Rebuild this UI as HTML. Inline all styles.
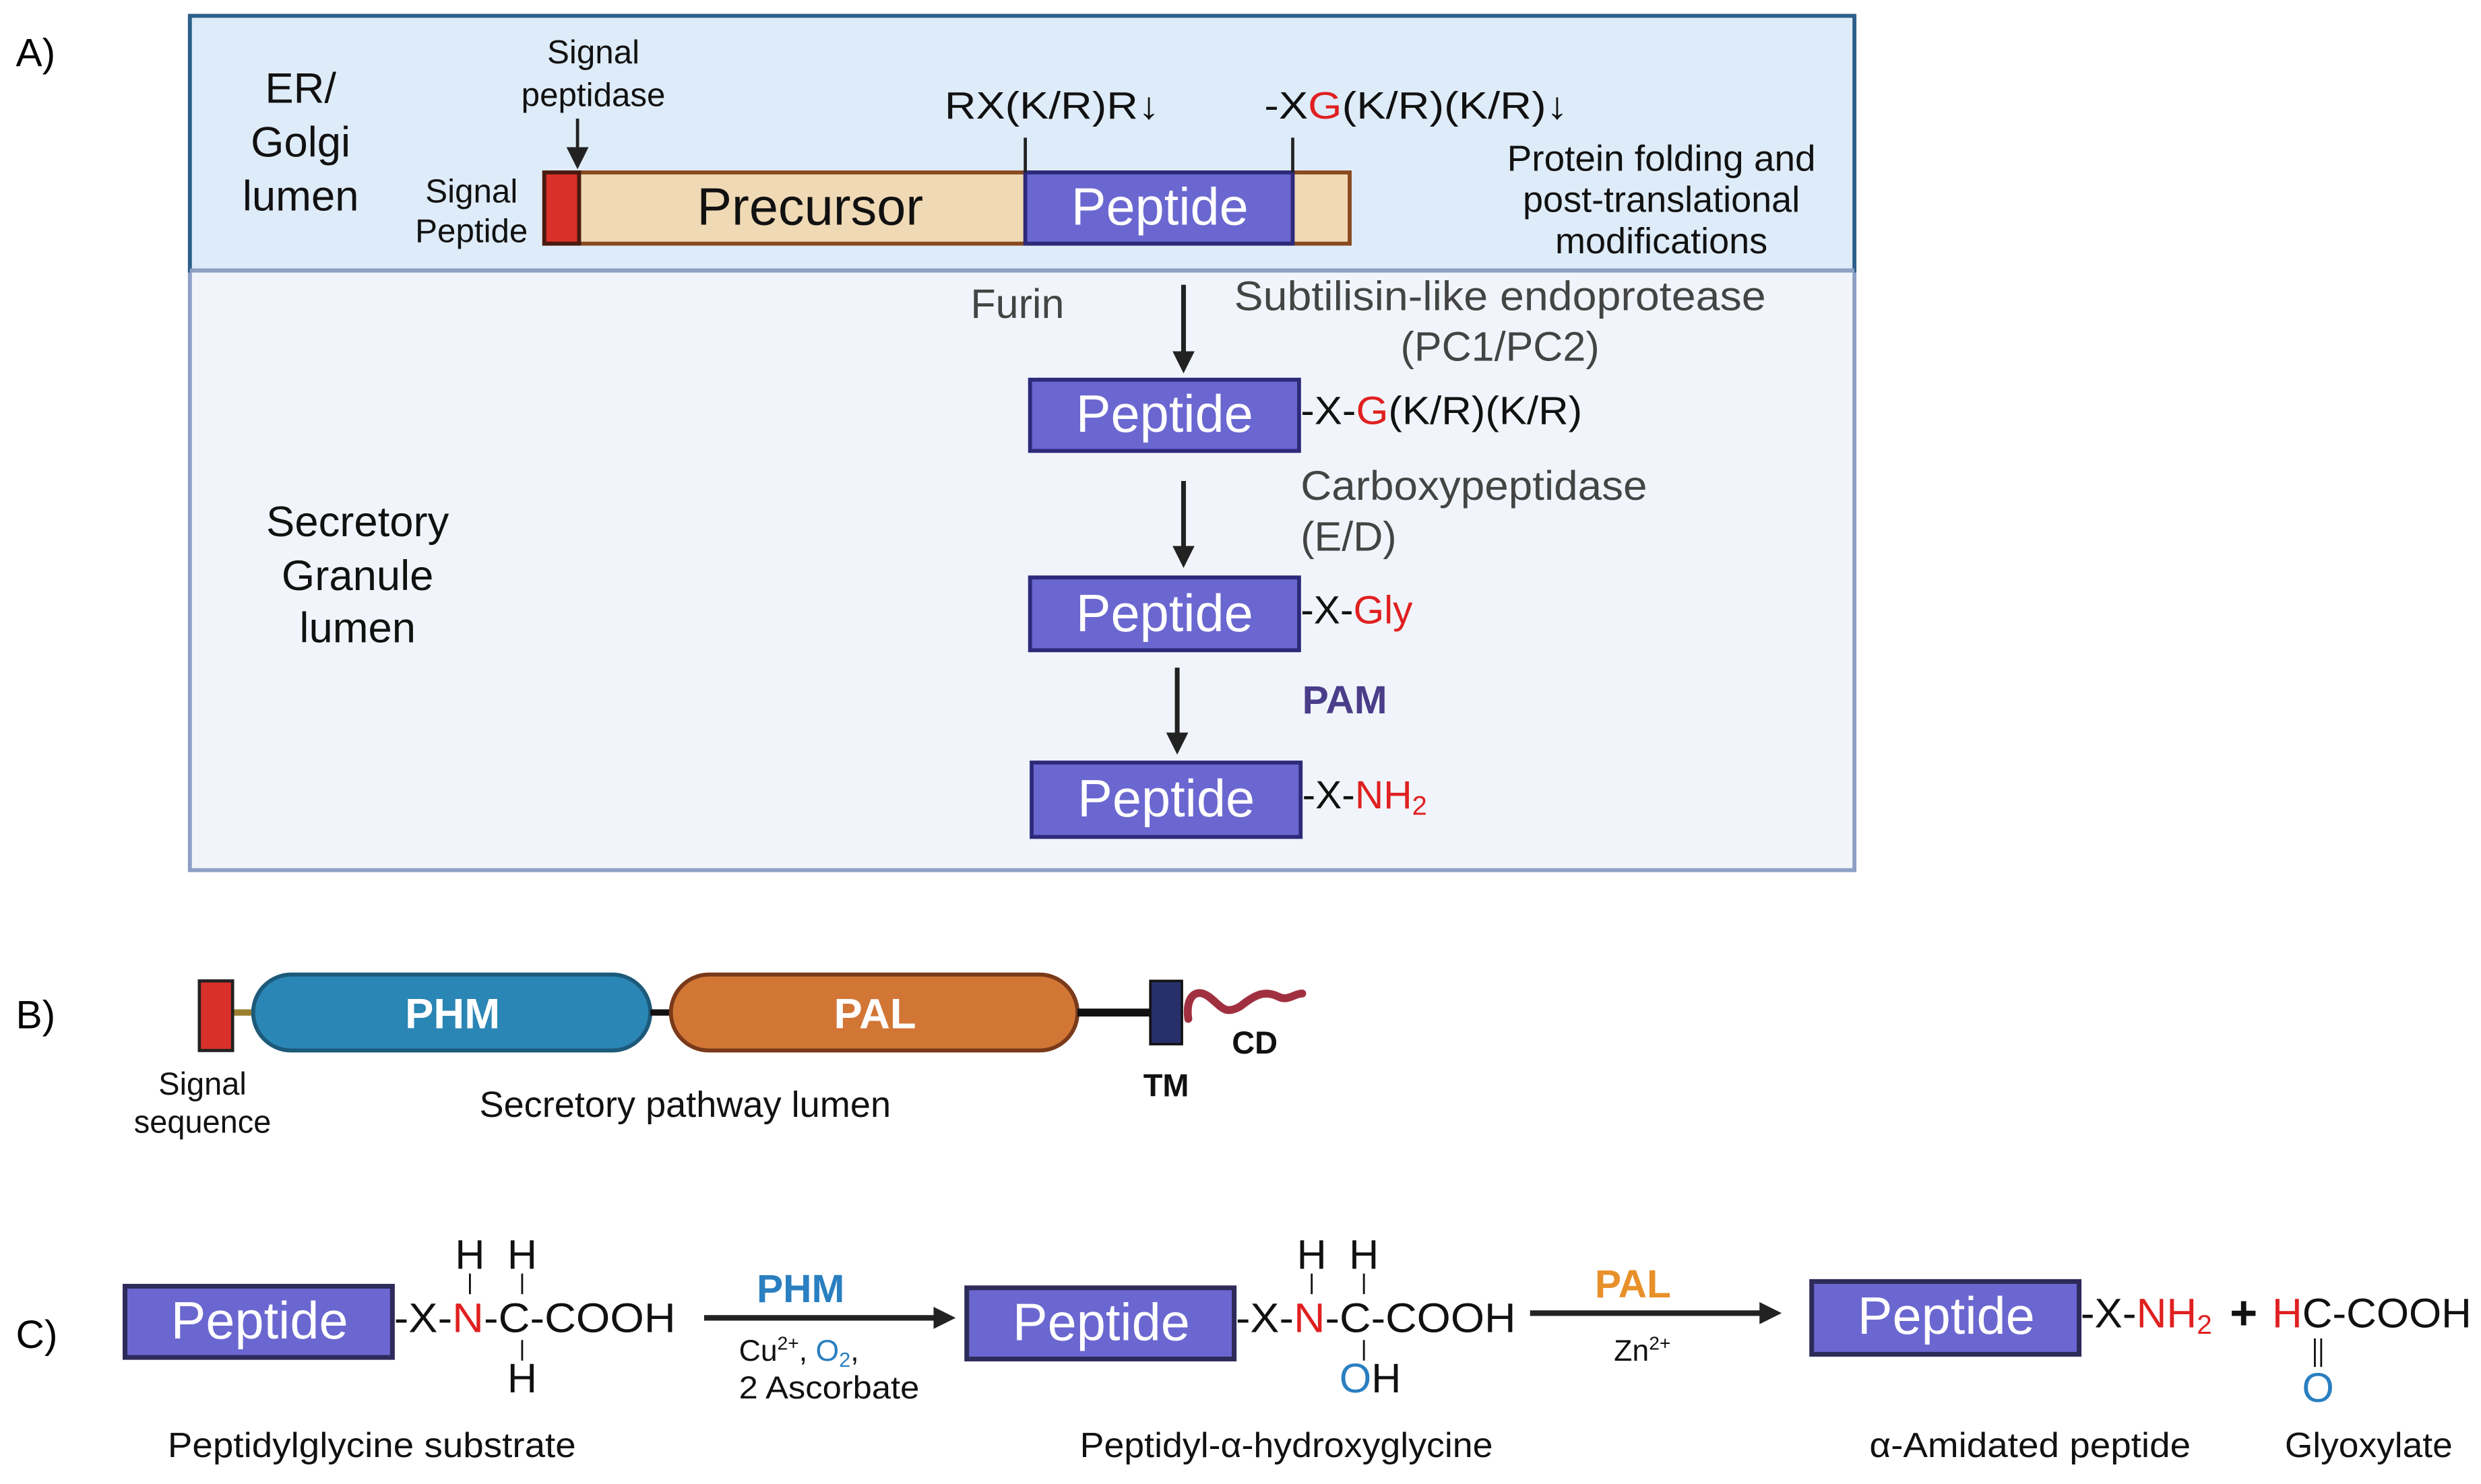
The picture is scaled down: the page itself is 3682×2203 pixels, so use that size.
<!DOCTYPE html>
<html><head><meta charset="utf-8"><style>
html,body{margin:0;padding:0;background:#fff}
svg{display:block}
text{font-family:"Liberation Sans",sans-serif}
</style></head><body>
<svg width="3682" height="2203" viewBox="0 0 1568 938" preserveAspectRatio="none" xmlns="http://www.w3.org/2000/svg">
<defs>
<marker id="ah2" markerWidth="14" markerHeight="14" refX="10" refY="7" orient="auto" markerUnits="userSpaceOnUse"><path d="M0,0 L14,7 L0,14 Z" fill="#222"/></marker>
</defs>
<!-- Panel A -->
<text x="10" y="42" font-size="25">A)</text>
<rect x="120" y="171" width="1052" height="379" fill="#f1f5fb" stroke="#8da0c4" stroke-width="2.5"/>
<rect x="120" y="10" width="1052" height="161" fill="#deebf8" stroke="#2d5f8a" stroke-width="2.5"/>
<line x1="120" y1="171" x2="1172" y2="171" stroke="#8da0c4" stroke-width="2.5"/>
<g font-size="27" text-anchor="middle" fill="#111">
<text x="190" y="65">ER/</text><text x="190" y="99">Golgi</text><text x="190" y="133">lumen</text>
<text x="226" y="339">Secretory</text><text x="226" y="373">Granule</text><text x="226" y="406">lumen</text>
</g>
<g font-size="21" text-anchor="middle" fill="#111">
<text x="375" y="40">Signal</text><text x="375" y="67">peptidase</text>
<text x="298" y="128">Signal</text><text x="298" y="153">Peptide</text>
</g>
<line x1="365" y1="75" x2="365" y2="103" stroke="#222" stroke-width="2" marker-end="url(#ah2)"/>
<rect x="344" y="109" width="509" height="45" fill="#f0d9b5" stroke="#8a4a20" stroke-width="2.5"/>
<rect x="344" y="109" width="22" height="45" fill="#d9302a" stroke="#4a1a10" stroke-width="2.5"/>
<rect x="648" y="109" width="169" height="45" fill="#6b67d0" stroke="#2e2a7a" stroke-width="2.5"/>
<text x="512" y="142" font-size="33" text-anchor="middle" fill="#111" textLength="143" lengthAdjust="spacingAndGlyphs">Precursor</text>
<text x="733" y="142" font-size="33" text-anchor="middle" fill="#fff" textLength="112" lengthAdjust="spacingAndGlyphs">Peptide</text>
<line x1="648" y1="87" x2="648" y2="109" stroke="#222" stroke-width="2"/>
<line x1="817" y1="87" x2="817" y2="109" stroke="#222" stroke-width="2"/>
<text x="597" y="75" font-size="24" fill="#111" textLength="136" lengthAdjust="spacingAndGlyphs">RX(K/R)R↓</text>
<text x="799" y="75" font-size="24" fill="#111" textLength="192" lengthAdjust="spacingAndGlyphs">-X<tspan fill="#e02020">G</tspan>(K/R)(K/R)↓</text>
<g font-size="23" text-anchor="middle" fill="#111">
<text x="1050" y="108" textLength="195" lengthAdjust="spacingAndGlyphs">Protein folding and</text><text x="1050" y="134">post-translational</text><text x="1050" y="160">modifications</text>
</g>
<text x="643" y="201" font-size="26" text-anchor="middle" fill="#444">Furin</text>
<text x="780" y="196" font-size="26" fill="#444" textLength="336" lengthAdjust="spacingAndGlyphs">Subtilisin-like endoprotease</text>
<text x="948" y="228" font-size="26" text-anchor="middle" fill="#444">(PC1/PC2)</text>
<line x1="748" y1="180" x2="748" y2="232" stroke="#222" stroke-width="3" marker-end="url(#ah2)"/>
<g stroke="#2e2a7a" stroke-width="2.5" fill="#6b67d0">
<rect x="651" y="240" width="170" height="45"/>
<rect x="651" y="365" width="170" height="46"/>
<rect x="652" y="482" width="170" height="47"/>
</g>
<g font-size="33" text-anchor="middle" fill="#fff">
<text x="736" y="273" textLength="112" lengthAdjust="spacingAndGlyphs">Peptide</text><text x="736" y="399" textLength="112" lengthAdjust="spacingAndGlyphs">Peptide</text><text x="737" y="516" textLength="112" lengthAdjust="spacingAndGlyphs">Peptide</text>
</g>
<g font-size="25" fill="#111">
<text x="822" y="268" textLength="178" lengthAdjust="spacingAndGlyphs">-X-<tspan fill="#e02020">G</tspan>(K/R)(K/R)</text>
<text x="822" y="394">-X-<tspan fill="#e02020">Gly</tspan></text>
<text x="823" y="511">-X-<tspan fill="#e02020">NH<tspan font-size="17" dy="4">2</tspan></tspan></text>
</g>
<line x1="748" y1="304" x2="748" y2="355" stroke="#222" stroke-width="3" marker-end="url(#ah2)"/>
<text x="822" y="316" font-size="26" fill="#444" textLength="219" lengthAdjust="spacingAndGlyphs">Carboxypeptidase</text>
<text x="822" y="348" font-size="26" fill="#444">(E/D)</text>
<line x1="744" y1="422" x2="744" y2="473" stroke="#222" stroke-width="3" marker-end="url(#ah2)"/>
<text x="823" y="451" font-size="25" font-weight="bold" fill="#4a3d8a">PAM</text>
<!-- Panel B -->
<text x="10" y="650" font-size="25">B)</text>
<line x1="147" y1="640" x2="160" y2="640" stroke="#9a8030" stroke-width="4"/>
<rect x="126" y="620" width="21" height="44" fill="#d9302a" stroke="#222" stroke-width="2"/>
<rect x="160" y="616" width="251" height="48" rx="24" fill="#2a86b5" stroke="#1d5a7a" stroke-width="2.5"/>
<line x1="411" y1="640" x2="424" y2="640" stroke="#111" stroke-width="4"/>
<rect x="424" y="616" width="257" height="48" rx="24" fill="#d27636" stroke="#7a3a1a" stroke-width="2.5"/>
<line x1="681" y1="640" x2="727" y2="640" stroke="#111" stroke-width="5"/>
<rect x="727" y="620" width="20" height="40" fill="#27306a" stroke="#111" stroke-width="1.5"/>
<path d="M751,644 C749,630 756,624 764,630 C772,636 774,642 784,636 C794,628 800,626 808,630 C814,633 818,628 823,628" fill="none" stroke="#a03040" stroke-width="5" stroke-linecap="round"/>
<text x="286" y="650" font-size="27" font-weight="bold" text-anchor="middle" fill="#fff">PHM</text>
<text x="553" y="650" font-size="27" font-weight="bold" text-anchor="middle" fill="#fff">PAL</text>
<text x="793" y="666" font-size="20" font-weight="bold" text-anchor="middle" fill="#111">CD</text>
<text x="737" y="693" font-size="20" font-weight="bold" text-anchor="middle" fill="#111">TM</text>
<text x="128" y="692" font-size="20" text-anchor="middle" fill="#111">Signal</text>
<text x="128" y="716" font-size="20" text-anchor="middle" fill="#111">sequence</text>
<text x="433" y="706" font-size="23" text-anchor="middle" fill="#111" textLength="260" lengthAdjust="spacingAndGlyphs">Secretory pathway lumen</text>
<!-- Panel C -->
<text x="10" y="852" font-size="25">C)</text>
<g stroke="#2e2a5a" stroke-width="3" fill="#6b67d0">
<rect x="79" y="813" width="169" height="45"/>
<rect x="611" y="814" width="169" height="45"/>
<rect x="1145" y="810" width="169" height="46"/>
</g>
<g font-size="33" text-anchor="middle" fill="#fff">
<text x="164" y="846" textLength="112" lengthAdjust="spacingAndGlyphs">Peptide</text><text x="696" y="847" textLength="112" lengthAdjust="spacingAndGlyphs">Peptide</text><text x="1230" y="843" textLength="112" lengthAdjust="spacingAndGlyphs">Peptide</text>
</g>
<g font-size="26" fill="#111">
<text x="249" y="842" textLength="178" lengthAdjust="spacingAndGlyphs">-X-<tspan fill="#e02020">N</tspan>-C-COOH</text>
<text x="781" y="842" textLength="177" lengthAdjust="spacingAndGlyphs">-X-<tspan fill="#e02020">N</tspan>-C-COOH</text>
<text x="1315" y="839" textLength="83" lengthAdjust="spacingAndGlyphs">-X-<tspan fill="#e02020">NH<tspan font-size="17" dy="4">2</tspan></tspan></text>
<text x="1436" y="839" textLength="126" lengthAdjust="spacingAndGlyphs"><tspan fill="#e02020">H</tspan>C-COOH</text>
<g text-anchor="middle">
<text x="297" y="802">H</text><text x="330" y="802">H</text><text x="330" y="880">H</text>
<text x="829" y="802">H</text><text x="862" y="802">H</text>
<text x="866" y="880"><tspan fill="#2a7fc0">O</tspan>H</text>
<text x="1465" y="886" fill="#2a7fc0">O</text>
</g>
</g>
<text x="1418" y="840" font-size="30" font-weight="bold" text-anchor="middle" fill="#111">+</text>
<g stroke="#111" stroke-width="1.2">
<line x1="297" y1="805" x2="297" y2="818"/><line x1="330" y1="805" x2="330" y2="818"/><line x1="330" y1="847" x2="330" y2="860"/>
<line x1="829" y1="805" x2="829" y2="818"/><line x1="862" y1="805" x2="862" y2="818"/><line x1="862" y1="847" x2="862" y2="860"/>
<line x1="1463" y1="846" x2="1463" y2="864"/><line x1="1467" y1="846" x2="1467" y2="864"/>
</g>
<line x1="445" y1="833" x2="600" y2="833" stroke="#222" stroke-width="3.5" marker-end="url(#ah2)"/>
<line x1="967" y1="830" x2="1122" y2="830" stroke="#222" stroke-width="3.5" marker-end="url(#ah2)"/>
<text x="506" y="823" font-size="25" font-weight="bold" text-anchor="middle" fill="#2a7fc0">PHM</text>
<text x="1032" y="820" font-size="25" font-weight="bold" text-anchor="middle" fill="#e8902a">PAL</text>
<text x="467" y="860" font-size="19" fill="#111">Cu<tspan font-size="12" dy="-7">2+</tspan><tspan dy="7">, </tspan><tspan fill="#2a7fc0">O<tspan font-size="13" dy="4">2</tspan></tspan><tspan dy="-4">,</tspan></text>
<text x="467" y="884" font-size="20" fill="#111" textLength="114" lengthAdjust="spacingAndGlyphs">2 Ascorbate</text>
<text x="1020" y="860" font-size="19" fill="#111">Zn<tspan font-size="12" dy="-7">2+</tspan></text>
<g font-size="22" text-anchor="middle" fill="#111">
<text x="235" y="921" textLength="258" lengthAdjust="spacingAndGlyphs">Peptidylglycine substrate</text>
<text x="813" y="921" textLength="261" lengthAdjust="spacingAndGlyphs">Peptidyl-α-hydroxyglycine</text>
<text x="1283" y="921" textLength="203" lengthAdjust="spacingAndGlyphs">α-Amidated peptide</text>
<text x="1497" y="921" textLength="106" lengthAdjust="spacingAndGlyphs">Glyoxylate</text>
</g>
</svg>
</body></html>
